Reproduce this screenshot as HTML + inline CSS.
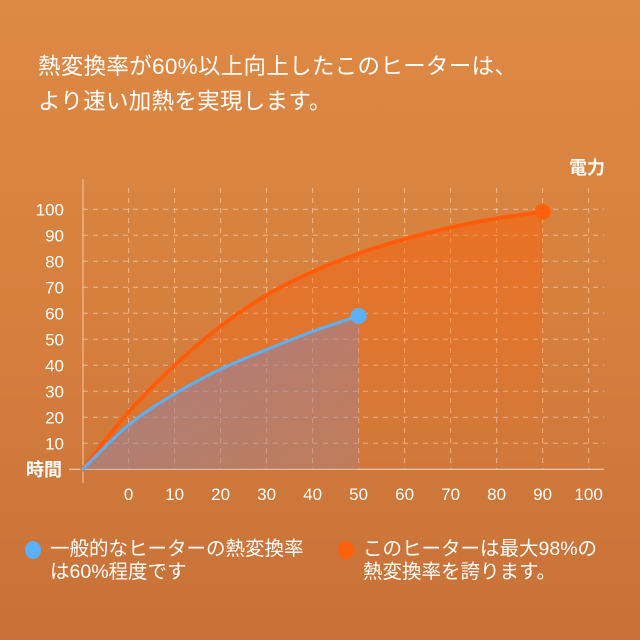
<!DOCTYPE html>
<html><head><meta charset="utf-8">
<style>
html,body{margin:0;padding:0}
body{width:640px;height:640px;overflow:hidden;background:linear-gradient(180deg,#dd8a45 0%,#d67f3e 50%,#c87138 100%);font-family:"Liberation Sans","Noto Sans CJK JP",sans-serif;color:#fff;position:relative}
.t{position:absolute;left:38px;font-size:22.5px;white-space:nowrap;letter-spacing:0.3px}
.lg{position:absolute;font-size:19.5px;line-height:23px;white-space:nowrap}
.dot{position:absolute;width:16px;height:18px;border-radius:50%}
</style></head><body>
<div class="t" style="top:49px">熱変換率が60%以上向上したこのヒーターは、</div>
<div class="t" style="top:84px">より速い加熱を実現します。</div>
<svg id="chart" width="640" height="640" style="position:absolute;left:0;top:0">
<defs>
<linearGradient id="og" x1="0" y1="0" x2="0" y2="1"><stop offset="0" stop-color="#ff5a00" stop-opacity="0.45"/><stop offset="1" stop-color="#ff5a00" stop-opacity="0"/></linearGradient>
<linearGradient id="bg" x1="0" y1="0" x2="1" y2="1"><stop offset="0" stop-color="#8f7fa8" stop-opacity="0.75"/><stop offset="1" stop-color="#9a86a0" stop-opacity="0.3"/></linearGradient>
</defs>
</svg>
<div class="dot" style="left:25px;top:541px;background:#5cb0f7"></div>
<div class="lg" style="left:50px;top:538px">一般的なヒーターの熱変換率<br>は60%程度です</div>
<div class="dot" style="left:338px;top:541px;background:#ff600c"></div>
<div class="lg" style="left:363px;top:538px">このヒーターは最大98%の<br>熱変換率を誇ります。</div>
<script>
const xTicks=[0,10,20,30,40,50,60,70,80,90,100];
const yTicks=[10,20,30,40,50,60,70,80,90,100];
const blueX=[-10,0,10,20,30,40,50];
const blueY=[0,17,29,38.5,46,53,59];
const orangeX=[-10,0,10,20,30,40,50,60,70,80,90];
const orangeY=[0,22,40,55,67,76,83,88.5,93,96.5,99];
const X=v=>128.6+(v)*4.6;
const Y=v=>469.3-v*2.6;
const svg=document.getElementById('chart');
const NS='http://www.w3.org/2000/svg';
function mk(tag,attrs){const e=document.createElementNS(NS,tag);for(const k in attrs)e.setAttribute(k,attrs[k]);svg.appendChild(e);return e;}
xTicks.forEach(v=>{const l=mk('line',{x1:X(v),x2:X(v),y1:188,y2:469,stroke:'rgba(255,255,255,0.45)','stroke-width':1,'stroke-dasharray':'5,5'});


const t=mk('text',{x:X(v),y:500,'text-anchor':'middle','font-size':17,fill:'#fff'});t.textContent=v;

});
yTicks.forEach(v=>{const l=mk('line',{x1:83,x2:604,y1:Y(v),y2:Y(v),stroke:'rgba(255,255,255,0.45)','stroke-width':1,'stroke-dasharray':'5,5'});


const t=mk('text',{x:64,y:Y(v)+6,'text-anchor':'end','font-size':17,fill:'#fff'});t.textContent=v;

});
let a=mk('line',{x1:83,x2:83,y1:179,y2:483,stroke:'rgba(255,255,255,0.6)','stroke-width':1});


a=mk('line',{x1:69,x2:604,y1:469.3,y2:469.3,stroke:'rgba(255,255,255,0.7)','stroke-width':1});


let tt=mk('text',{x:62,y:476,'text-anchor':'end','font-size':18,'font-weight':'bold',fill:'#fff'});tt.textContent='時間';


tt=mk('text',{x:605,y:174,'text-anchor':'end','font-size':18,'font-weight':'bold',fill:'#fff'});tt.textContent='電力';


function smooth(xs,ys){let d='M'+X(xs[0])+','+Y(ys[0]);for(let i=1;i<xs.length;i++){const p0=[X(xs[Math.max(i-2,0)]),Y(ys[Math.max(i-2,0)])],p1=[X(xs[i-1]),Y(ys[i-1])],p2=[X(xs[i]),Y(ys[i])],p3=[X(xs[Math.min(i+1,xs.length-1)]),Y(ys[Math.min(i+1,xs.length-1)])];
d+=' C'+(p1[0]+(p2[0]-p0[0])/6)+','+(p1[1]+(p2[1]-p0[1])/6)+' '+(p2[0]-(p3[0]-p1[0])/6)+','+(p2[1]-(p3[1]-p1[1])/6)+' '+p2[0]+','+p2[1];}return d;}
const od=smooth(orangeX,orangeY), bd=smooth(blueX,blueY);
let e=mk('path',{d:od+' L'+X(orangeX[orangeX.length-1])+','+Y(0)+' Z',fill:'url(#og)'});


e=mk('path',{d:bd+' L'+X(blueX[blueX.length-1])+','+Y(0)+' Z',fill:'url(#bg)'});


e=mk('path',{d:od,fill:'none',stroke:'#ff5c0a','stroke-width':4,'stroke-linecap':'round'});


e=mk('path',{d:bd,fill:'none',stroke:'#5cb0f7','stroke-width':3,'stroke-linecap':'round'});


e=mk('circle',{cx:X(orangeX[orangeX.length-1]),cy:Y(orangeY[orangeY.length-1]),r:8,fill:'#ff600c'});


e=mk('circle',{cx:X(blueX[blueX.length-1]),cy:Y(blueY[blueY.length-1]),r:8,fill:'#5cb0f7'});


</script>
</body></html>
